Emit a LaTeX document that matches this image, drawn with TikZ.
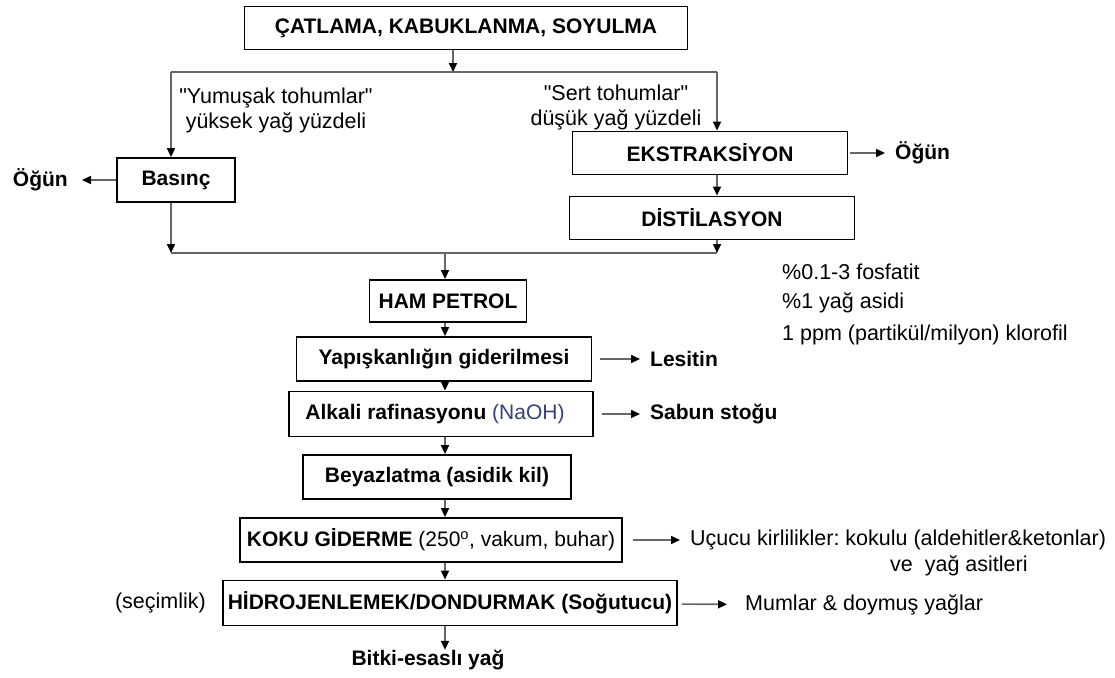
\documentclass[tikz,border=0pt]{standalone}
\usepackage{fontspec}
\setmainfont{Liberation Sans}
\usetikzlibrary{arrows.meta}
\definecolor{naoh}{RGB}{55,65,120}
\newcommand\dfont{\fontsize{21}{25}\selectfont\frenchspacing}
\newcommand\rfont{\fontsize{21.5}{25}\selectfont\frenchspacing}
\tikzset{
  >={Triangle[length=9pt,width=8pt,color=black]},
  box/.style={draw,line width=1.8pt,inner sep=0pt,font=\dfont\bfseries},
  lbl/.style={inner sep=0pt,font=\rfont},
  blbl/.style={inner sep=0pt,font=\dfont\bfseries},
  conn/.style={line width=1.6pt,draw=black!60},
}

\begin{document}
\begin{tikzpicture}[x=1pt,y=-1pt,font=\dfont]
\useasboundingbox[fill=white] (0,0) rectangle (1115,677);
% first stage: cracking and the two branches
\node[box,minimum width=443pt,minimum height=43pt] (crack) at (466,28) {ÇATLAMA, KABUKLANMA, SOYULMA};
\node[lbl,align=center] (soft) at (276,110) {\textquotedbl Yumuşak tohumlar\textquotedbl\\yüksek yağ yüzdeli};
\node[lbl,align=center] (hard) at (616,107) {\textquotedbl Sert tohumlar\textquotedbl\\düşük yağ yüzdeli};
\node[box,minimum width=118pt,minimum height=44pt] (press) at (176,180) {Basınç};
\node[blbl,anchor=east] (mealL) at (68,180) {Öğün};
\node[box,minimum width=275pt,minimum height=43pt] (extr) at (710,153) {EKSTRAKSİYON};
\node[blbl,anchor=west] (mealR) at (895,153) {Öğün};
\node[box,minimum width=285pt,minimum height=43pt] (dist) at (712,218) {DİSTİLASYON};
\coordinate (sp) at (453,72); \coordinate (spL) at (171,72); \coordinate (spR) at (717,72);
\coordinate (jL) at (171,253); \coordinate (jR) at (717,253); \coordinate (jc) at (445,253);
% refining line
\node[box,minimum width=157pt,minimum height=42pt] (crude) at (448,301) {HAM PETROL};
\node[box,minimum width=295pt,minimum height=44pt] (degum) at (444,359) {Yapışkanlığın giderilmesi};
\node[box,minimum width=304pt,minimum height=45pt] (alkali) at (441,414) {Alkali rafinasyonu \textmd{\color{naoh}(NaOH)}\hspace*{12pt}};
\node[box,minimum width=268pt,minimum height=44pt] (bleach) at (437,477) {Beyazlatma (asidik kil)};
\node[box,minimum width=382pt,minimum height=44pt] (deodor) at (431,540) {KOKU GİDERME \textmd{(250\textsuperscript{o}, vakum, buhar)}};
\node[box,minimum width=454pt,minimum height=45pt] (hydro) at (450,603) {HİDROJENLEMEK/DONDURMAK (Soğutucu)};
\node[blbl] (oil) at (428,660) {Bitki-esaslı yağ};
\node[lbl,anchor=east] (opt) at (206,603) {(seçimlik)};
% side products and notes
\node[blbl,anchor=west] (lecit) at (650,359) {Lesitin};
\node[blbl,anchor=west] (soap) at (650,414) {Sabun stoğu};
\node[lbl,anchor=west] (vol) at (690,540) {Uçucu kirlilikler: kokulu (aldehitler\&ketonlar)};
\node[lbl,anchor=west] (vol2) at (890,566) {ve\ \ yağ asitleri};
\node[lbl,anchor=west] (wax) at (745,605) {Mumlar \& doymuş yağlar};
\node[lbl,anchor=west] (n1) at (782,272) {\%0.1-3 fosfatit};
\node[lbl,anchor=west] (n2) at (782,303) {\%1 yağ asidi};
\node[lbl,anchor=west] (n3) at (782,335) {1 ppm (partikül/milyon) klorofil};

\draw[conn,->] (crack.south -| sp) -- (sp);
\draw[conn] (spL) -- (spR);
\draw[conn,->] (spL) -- (press.north -| spL);
\draw[conn,->] (spR) -- (extr.north -| spR);
\draw[conn,->,shorten >=14pt] (press) -- (mealL);
\draw[conn,->,shorten <=2pt,shorten >=10pt] (extr) -- (mealR);
\draw[conn,->] (extr.south -| spR) -- (dist.north -| spR);
\draw[conn,->] (press.south -| jL) -- (jL);
\draw[conn,->] (dist.south -| jR) -- (jR);
\draw[conn] (jL) -- (jR);
\draw[conn,->] (jc) -- (crude.north -| jc);
\draw[conn,->] (crude.south -| jc) -- (degum.north -| jc);
\draw[conn,->] (degum.south -| jc) -- (alkali.north -| jc);
\draw[conn,->] (alkali.south -| jc) -- (bleach.north -| jc);
\draw[conn,->] (bleach.south -| jc) -- (deodor.north -| jc);
\draw[conn,->] (deodor.south -| jc) -- (hydro.north -| jc);
\draw[conn,->] (hydro.south -| jc) -- (oil.north -| jc);
\draw[conn,->,shorten <=8pt,shorten >=10pt] (degum) -- (lecit);
\draw[conn,->,shorten <=8pt,shorten >=10pt] (alkali) -- (soap);
\draw[conn,->,shorten <=10pt,shorten >=10pt] (deodor) -- (vol);
\draw[conn,->,shorten <=4pt,shorten >=18pt] (hydro) -- (wax);
\end{tikzpicture}
\end{document}
